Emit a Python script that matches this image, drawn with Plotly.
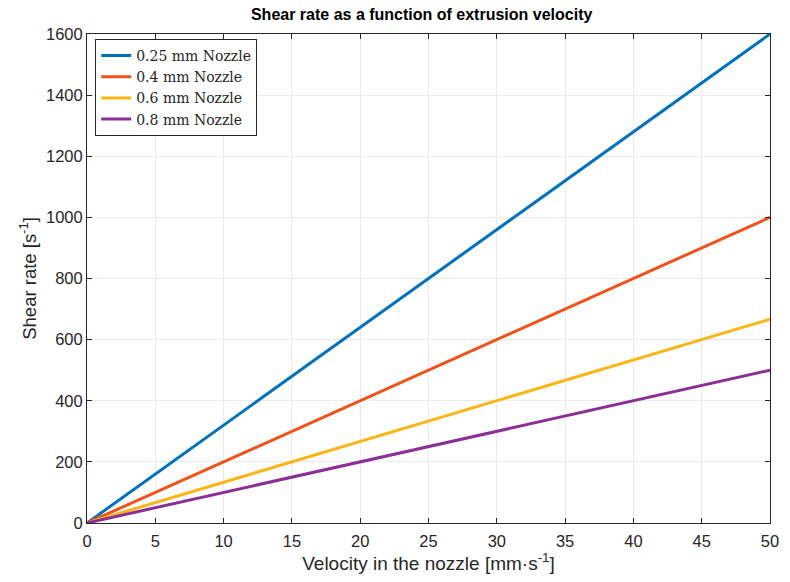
import plotly.graph_objects as go

velocity = [0, 50]
shear_025 = [0, 1600]
shear_04 = [0, 1000]
shear_06 = [0, 666.7]
shear_08 = [0, 500]
names = ["0.25 mm Nozzle", "0.4 mm Nozzle", "0.6 mm Nozzle", "0.8 mm Nozzle"]
colors = ["#0072BD", "#F2521A", "#FDB515", "#8B2F97"]
x_ticks = [0, 5, 10, 15, 20, 25, 30, 35, 40, 45, 50]
y_ticks = [0, 200, 400, 600, 800, 1000, 1200, 1400, 1600]

fig = go.Figure()
for name, ys, c in zip(names, [shear_025, shear_04, shear_06, shear_08], colors):
    fig.add_trace(go.Scatter(x=velocity, y=ys, mode="lines", name=name,
                             line=dict(color=c, width=3)))

axis_common = dict(
    showline=True, linecolor="#262626", linewidth=1, mirror="ticks",
    ticks="inside", ticklen=5, tickcolor="#262626",
    showgrid=True, gridcolor="#EBEBEB", gridwidth=1,
    zeroline=False,
    tickfont=dict(family="Liberation Sans, Arial", size=16.5, color="#262626"),
)

fig.update_layout(
    width=790, height=582,
    margin=dict(l=87, r=11, t=34, b=59),
    paper_bgcolor="white", plot_bgcolor="white",
    title=dict(text="<b>Shear rate as a function of extrusion velocity</b>",
               x=0.49, xanchor="center", xref="paper", y=0.985, yanchor="top",
               font=dict(family="Liberation Sans, Arial", size=16, color="black")),
    xaxis=dict(range=[0, 50], tickvals=x_ticks, ticklabelstandoff=3,
               title=dict(text="Velocity in the nozzle [mm·s<sup>-1</sup>]", standoff=6,
                          font=dict(family="Liberation Sans, Arial", size=19, color="#262626")),
               **axis_common),
    yaxis=dict(range=[0, 1600], tickvals=y_ticks,
               title=dict(text="Shear rate [s<sup>-1</sup>]", standoff=4,
                          font=dict(family="Liberation Sans, Arial", size=18.5, color="#262626")),
               **axis_common),
    legend=dict(x=0.012, y=0.99, xanchor="left", yanchor="top",
                bgcolor="white", bordercolor="#262626", borderwidth=1,
                font=dict(family="DejaVu Serif, Liberation Serif", size=14, color="#262626"),
                tracegroupgap=0, itemwidth=30),
    showlegend=True,
)

fig.write_html("out.html")
